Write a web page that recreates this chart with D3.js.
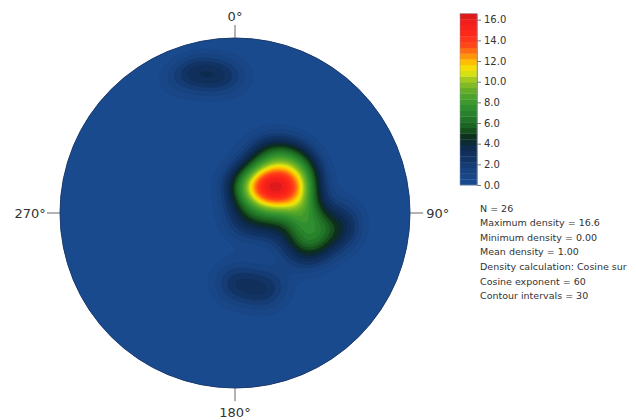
<!DOCTYPE html>
<html><head><meta charset="utf-8">
<script src="https://cdn.jsdelivr.net/npm/d3@7"></script>
<style>body{margin:0;background:#fff}svg{display:block}</style>
</head><body>
<script>
// ---------- data ----------
// pole orientations (trend, plunge in degrees), lower-hemisphere
const poleTrend  = [43, 49, 56, 66, 62, 68, 56,   29, 38, 49, 14, 60, 119, 70.5, 101, 89, 34,   94, 101, 97, 113, 114,   343, 354, 179, 158];
const polePlunge = [73, 68, 65, 60, 69, 65, 73,   61, 56, 52, 76.6, 52, 85.2, 57.6, 73.4, 59.5, 76,   55, 46, 37, 58, 50,   17, 23, 57, 51];
const nPoles = 26;
const cosineExponent = 60;
const contourIntervals = 30;
const maxDensity = 16.6;
const colorbarTicks = [0, 2, 4, 6, 8, 10, 12, 14, 16];
const directionAngles = [0, 90, 180, 270];
const directionLabels = ["0°", "90°", "180°", "270°"];
const infoLines = [
  "N = 26",
  "Maximum density = 16.6",
  "Minimum density = 0.00",
  "Mean density = 1.00",
  "Density calculation: Cosine sur",
  "Cosine exponent = 60",
  "Contour intervals = 30"
];
const densityStops = [0, 1.5, 2.5, 3.5, 4.0, 4.6, 5.5, 6.5, 7.5, 8.5, 9.5, 10.3, 11.0, 11.6, 12.2, 12.8, 13.5, 14.5, 16.0, 16.6];
const palette = ["#1b4c92", "#17427f", "#123465", "#0e2a52", "#0c2a3a", "#0b2c1c", "#1a5a1e", "#23792a", "#2f8f2f", "#4aa22c",
                 "#74b428", "#a8cc1c", "#eaea10", "#ffd400", "#ffaa00", "#ff7a10", "#ff4a18", "#ff2a1a", "#ee1c1c", "#d01818"];

// ---------- layout ----------
const W = 636, H = 420;
const cx = 235, cy = 213, R = 175;
const cell = 2;

const svg = d3.select("body").append("svg").attr("width", W).attr("height", H);

const xs = d3.scaleLinear().domain([-1, 1]).range([cx - R, cx + R]);
const ys = d3.scaleLinear().domain([-1, 1]).range([cy + R, cy - R]);
const color = d3.scaleLinear().domain(densityStops).range(palette).interpolate(d3.interpolateRgb).clamp(true);

const rad = Math.PI / 180;
const poles = poleTrend.map((t, i) => {
  const p = polePlunge[i] * rad, tr = t * rad;
  return [Math.cos(p) * Math.cos(tr), Math.cos(p) * Math.sin(tr), Math.sin(p)];
});

// ---------- density grid (cosine sums) ----------
const x0 = cx - R - 2, y0 = cy - R - 2;
const nx = Math.ceil((2 * R + 4) / cell), ny = nx;
const values = new Float64Array(nx * ny);
const norm = (cosineExponent + 1) / nPoles;
for (let j = 0; j < ny; j++) {
  for (let i = 0; i < nx; i++) {
    const u = xs.invert(x0 + (i + 0.5) * cell);
    const v = ys.invert(y0 + (j + 0.5) * cell);
    let r = Math.sqrt(u * u + v * v);
    if (r > 1) r = 1;
    const phi = 2 * Math.asin(r / Math.SQRT2);
    const tr = Math.atan2(u, v);
    const vec = [Math.sin(phi) * Math.cos(tr), Math.sin(phi) * Math.sin(tr), Math.cos(phi)];
    let s = 0;
    for (const p of poles) {
      const d = Math.abs(vec[0] * p[0] + vec[1] * p[1] + vec[2] * p[2]);
      s += Math.pow(d, cosineExponent);
    }
    values[j * nx + i] = s * norm;
  }
}

const step = maxDensity / contourIntervals;
const thresholds = d3.range(contourIntervals).map(k => k * step);
const contours = d3.contours().size([nx, ny]).thresholds(thresholds)(values);

svg.append("defs").append("clipPath").attr("id", "net")
  .append("circle").attr("cx", cx).attr("cy", cy).attr("r", R);

const path = d3.geoPath(d3.geoIdentity().scale(cell).translate([x0, y0]));
const g = svg.append("g").attr("clip-path", "url(#net)");
g.append("circle").attr("cx", cx).attr("cy", cy).attr("r", R).attr("fill", color(step / 2));
g.selectAll("path").data(contours).join("path")
  .attr("d", path)
  .attr("fill", d => color(d.value + step / 2))
  .attr("stroke", d => color(d.value + step / 2))
  .attr("stroke-width", 0.6);

svg.append("circle").attr("cx", cx).attr("cy", cy).attr("r", R)
  .attr("fill", "none").attr("stroke", "#1d3c6e").attr("stroke-width", 1);

// ---------- direction ticks & labels ----------
const dirG = svg.append("g").attr("font-family", "DejaVu Sans, Verdana, sans-serif").attr("font-size", 13).attr("fill", "#333");
directionAngles.forEach((a, k) => {
  const s = Math.sin(a * rad), c = Math.cos(a * rad);
  const xA = xs(s), yA = ys(c);
  const xB = xs(s * 1.075), yB = ys(c * 1.075);
  dirG.append("line").attr("x1", xA).attr("y1", yA).attr("x2", xB).attr("y2", yB)
    .attr("stroke", "#666").attr("stroke-width", 1);
  const t = dirG.append("text").text(directionLabels[k]);
  if (a === 0) t.attr("x", xB).attr("y", yB - 4).attr("text-anchor", "middle");
  else if (a === 180) t.attr("x", xB).attr("y", yB + 16).attr("text-anchor", "middle");
  else if (a === 90) t.attr("x", xB + 3).attr("y", yB + 5).attr("text-anchor", "start");
  else t.attr("x", xB - 1).attr("y", yB + 5).attr("text-anchor", "end");
});

// ---------- colour bar ----------
const cbX = 460, cbW = 17;
const cbY = d3.scaleLinear().domain([0, maxDensity]).range([185, 13.5]);
const cb = svg.append("g");
cb.selectAll("rect").data(thresholds).join("rect")
  .attr("x", cbX).attr("width", cbW)
  .attr("y", d => cbY(d + step))
  .attr("height", d => cbY(d) - cbY(d + step) + 0.3)
  .attr("fill", d => color(d + step / 2));
cb.append("rect").attr("x", cbX).attr("y", cbY(maxDensity)).attr("width", cbW)
  .attr("height", cbY(0) - cbY(maxDensity)).attr("fill", "none").attr("stroke", "#8899aa").attr("stroke-width", 0.5);
const axis = d3.axisRight(cbY).tickValues(colorbarTicks).tickFormat(d3.format(".1f")).tickSize(4).tickSizeOuter(0).tickPadding(3);
const ax = svg.append("g").attr("transform", `translate(${cbX + cbW},0)`).call(axis);
ax.select(".domain").attr("stroke", "#999");
ax.selectAll(".tick line").attr("stroke", "#777");
ax.selectAll("text").attr("font-family", "DejaVu Sans, Verdana, sans-serif").attr("font-size", 10).attr("fill", "#333");

// ---------- info text ----------
const info = svg.append("g").attr("font-family", "DejaVu Sans, Verdana, sans-serif").attr("font-size", 9.5).attr("fill", "#333");
info.selectAll("text").data(infoLines).join("text")
  .attr("x", 480).attr("y", (d, k) => 211.5 + k * 14.6).text(d => d);
</script>
</body></html>
